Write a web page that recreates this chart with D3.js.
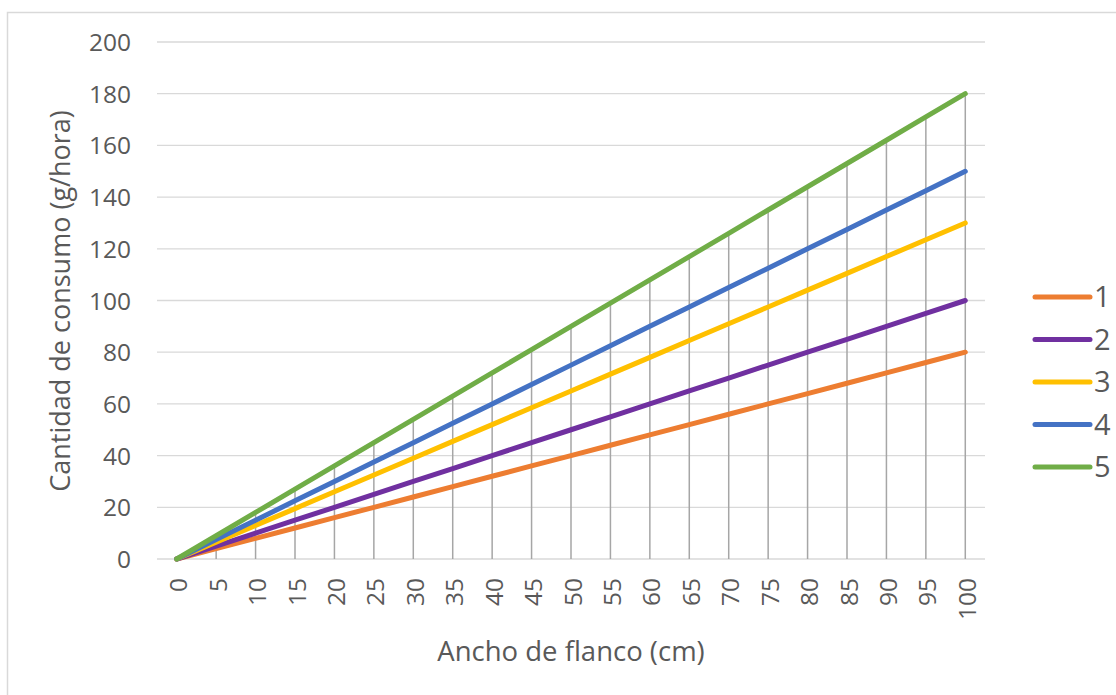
<!DOCTYPE html>
<html><head><meta charset="utf-8">
<script src="https://cdn.jsdelivr.net/npm/d3@7"></script>
<style>
html,body{margin:0;padding:0;background:#fff;}
svg{display:block;}
text{font-family:"Open Sans","Liberation Sans",sans-serif;fill:#595959;}
</style></head>
<body>
<svg id="chart" width="1116" height="695"></svg>
<script>
const categories = [0,5,10,15,20,25,30,35,40,45,50,55,60,65,70,75,80,85,90,95,100];
const serie1 = [0,4,8,12,16,20,24,28,32,36,40,44,48,52,56,60,64,68,72,76,80];
const serie2 = [0,5,10,15,20,25,30,35,40,45,50,55,60,65,70,75,80,85,90,95,100];
const serie3 = [0,6.5,13,19.5,26,32.5,39,45.5,52,58.5,65,71.5,78,84.5,91,97.5,104,110.5,117,123.5,130];
const serie4 = [0,7.5,15,22.5,30,37.5,45,52.5,60,67.5,75,82.5,90,97.5,105,112.5,120,127.5,135,142.5,150];
const serie5 = [0,9,18,27,36,45,54,63,72,81,90,99,108,117,126,135,144,153,162,171,180];
const seriesNames = ["1","2","3","4","5"];
const seriesColors = ["#ED7D31","#7030A0","#FFC000","#4472C4","#70AD47"];
const yTicks = [0,20,40,60,80,100,120,140,160,180,200];
const xTitle = "Ancho de flanco (cm)";
const yTitle = "Cantidad de consumo  (g/hora)";

const allSeries = [serie1,serie2,serie3,serie4,serie5];
const svg = d3.select("#chart");

svg.append("rect").attr("x",7.5).attr("y",12.5).attr("width",1200).attr("height",800)
  .attr("fill","none").attr("stroke","#d9d9d9").attr("stroke-width",1.5);

const pLeft=157, pRight=985, pTop=42, pBottom=559;
const x = d3.scaleBand().domain(categories).range([pLeft,pRight]);
const xc = d => x(d) + x.bandwidth()/2;
const y = d3.scaleLinear().domain([0,200]).range([pBottom,pTop]);

svg.append("g").selectAll("line").data(yTicks).join("line")
  .attr("x1",pLeft).attr("x2",pRight)
  .attr("y1",d=>y(d)).attr("y2",d=>y(d))
  .attr("stroke","#d9d9d9").attr("stroke-width",1.3);

const yAxis = d3.axisLeft(y).tickValues(yTicks).tickSize(0).tickPadding(0);
const gy = svg.append("g").attr("transform",`translate(${131},0)`).call(yAxis);
gy.select(".domain").remove();
gy.selectAll("text").attr("font-size",24.5).attr("font-family",'"Open Sans","Liberation Sans",sans-serif').attr("fill","#595959").attr("dy","0.35em");

const xAxis = d3.axisBottom(x).tickSize(0).tickPadding(0);
const gx = svg.append("g").attr("transform",`translate(0,${pBottom})`).call(xAxis);
gx.select(".domain").remove();
gx.selectAll("text")
  .attr("font-size",24.5).attr("font-family",'"Open Sans","Liberation Sans",sans-serif').attr("fill","#595959")
  .attr("text-anchor","end").attr("dy",null)
  .attr("transform","translate(1,19) rotate(-90)")
  .attr("y",0).attr("x",0).attr("dominant-baseline","central");

const maxVals = categories.map((c,i)=>d3.max(allSeries,s=>s[i]));
svg.append("g").selectAll("line").data(categories).join("line")
  .attr("x1",d=>xc(d)).attr("x2",d=>xc(d))
  .attr("y1",y(0)).attr("y2",(d,i)=>y(maxVals[i]))
  .attr("stroke","#a6a6a6").attr("stroke-width",1.5);

const line = d3.line().x((d,i)=>xc(categories[i])).y(d=>y(d));
svg.append("g").selectAll("path").data(allSeries).join("path")
  .attr("d",d=>line(d)).attr("fill","none")
  .attr("stroke",(d,i)=>seriesColors[i]).attr("stroke-width",5)
  .attr("stroke-linejoin","round").attr("stroke-linecap","round");

svg.append("text").attr("x",571).attr("y",661).attr("text-anchor","middle")
  .attr("font-size",27.5).text(xTitle);
svg.append("text").attr("transform","translate(70,301) rotate(-90)").attr("text-anchor","middle")
  .attr("font-size",27).text(yTitle);

const lg = svg.append("g");
seriesNames.forEach((n,i)=>{
  const ly = 297 + i*42.5;
  lg.append("line").attr("x1",1035).attr("x2",1090).attr("y1",ly).attr("y2",ly)
    .attr("stroke",seriesColors[i]).attr("stroke-width",5).attr("stroke-linecap","round");
  lg.append("text").attr("x",1094).attr("y",ly).attr("dy","0.36em").attr("font-size",29).text(n);
});
</script>
</body></html>
